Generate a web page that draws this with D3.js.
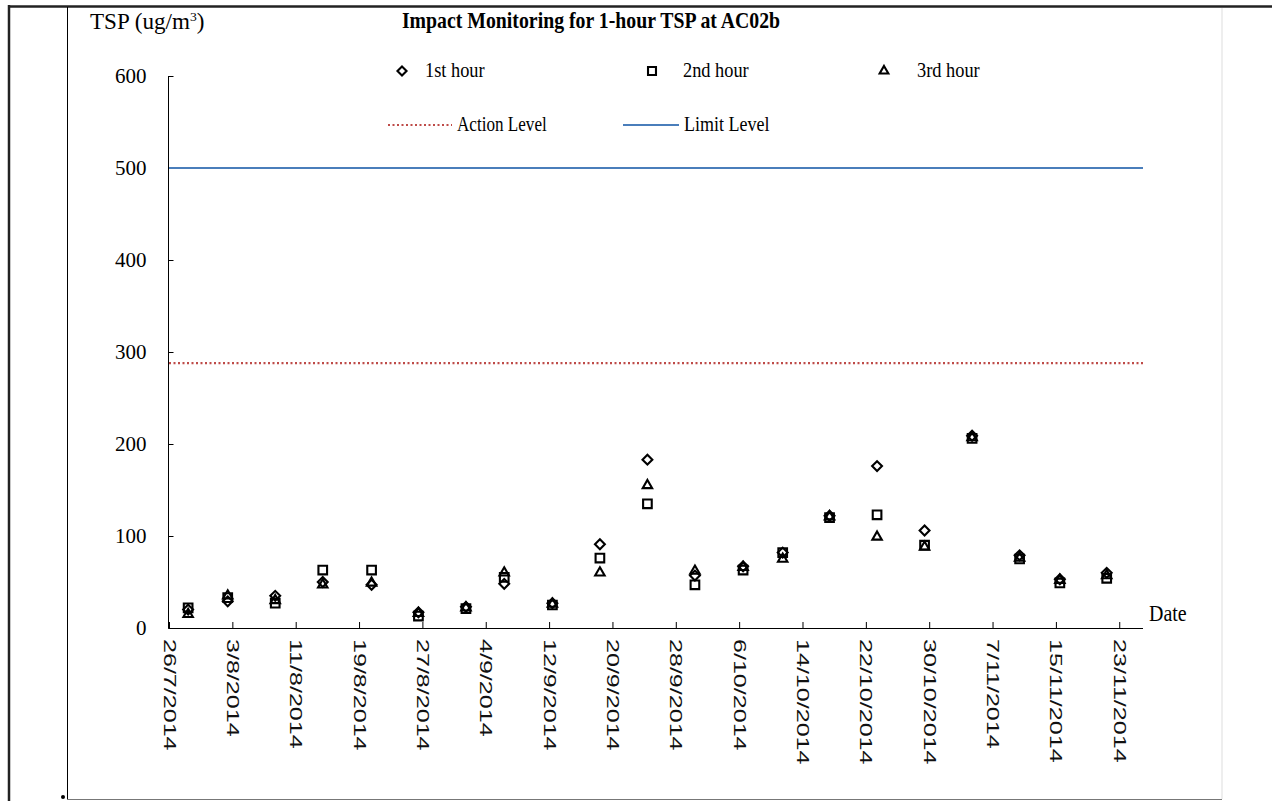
<!DOCTYPE html>
<html>
<head>
<meta charset="utf-8">
<script src="https://cdn.jsdelivr.net/npm/d3@7"></script>
<style>
  body { margin: 0; background: #fff; }
  .chart text { fill: #000; }
</style>
</head>
<body>
<div class="chart"></div>
<script>
// Impact Monitoring for 1-hour TSP at AC02b

var svgWidth = 1272;
var svgHeight = 801;

// sampling dates (start time of the 1-hour measurement)
var sampleDates = [
  "28/7/2014 10:00", "2/8/2014 10:00", "8/8/2014 10:00", "14/8/2014 10:00",
  "20/8/2014 14:00", "26/8/2014 12:00", "1/9/2014 12:00", "6/9/2014 08:00",
  "12/9/2014 10:00", "18/9/2014 10:00", "24/9/2014 10:00", "30/9/2014 10:00",
  "6/10/2014 12:00", "11/10/2014 12:00", "17/10/2014 10:00", "23/10/2014 10:00",
  "29/10/2014 10:00", "4/11/2014 10:00", "10/11/2014 10:00", "15/11/2014 12:00",
  "21/11/2014 10:00"
];
var hour1 = [20, 29, 35, 50, 47, 17, 23, 48, 27, 91, 183, 57, 67, 82, 122, 176, 106, 209, 79, 53, 60];
var hour2 = [22, 33, 27, 63, 63, 13, 21, 55, 25, 76, 135, 47, 63, 82, 120, 123, 90, 206, 75, 49, 54];
var hour3 = [15, 35, 30, 47, 49, 16, 22, 60, 26, 60, 155, 62, 66, 75, 121, 99, 88, 207, 76, 52, 57];

var actionLevel = 288;
var limitLevel = 500;

var yTicks = [0, 100, 200, 300, 400, 500, 600];
var xTickLabels = [
  "26/7/2014", "3/8/2014", "11/8/2014", "19/8/2014", "27/8/2014", "4/9/2014",
  "12/9/2014", "20/9/2014", "28/9/2014", "6/10/2014", "14/10/2014", "22/10/2014",
  "30/10/2014", "7/11/2014", "15/11/2014", "23/11/2014"
];
var xDomain = ["26/7/2014", "26/11/2014"];

var parseTime = d3.timeParse("%d/%m/%Y %H:%M");
var parseDay = d3.timeParse("%d/%m/%Y");

var serif = "'Liberation Serif', 'Times New Roman', serif";

var svg = d3.select(".chart")
  .append("svg")
  .attr("width", svgWidth)
  .attr("height", svgHeight);

// page frame around the figure
svg.append("line").attr("x1", 9).attr("x2", 9).attr("y1", 5).attr("y2", 801)
  .attr("stroke", "#222").attr("stroke-width", 2.5);
svg.append("line").attr("x1", 9).attr("x2", 1272).attr("y1", 6.5).attr("y2", 6.5)
  .attr("stroke", "#222").attr("stroke-width", 2.5);
svg.append("line").attr("x1", 67.5).attr("x2", 67.5).attr("y1", 7).attr("y2", 800)
  .attr("stroke", "#000").attr("stroke-width", 1);
svg.append("line").attr("x1", 67).attr("x2", 1222).attr("y1", 799.5).attr("y2", 799.5)
  .attr("stroke", "#777").attr("stroke-width", 1);
svg.append("line").attr("x1", 1222).attr("x2", 1222).attr("y1", 8).attr("y2", 799)
  .attr("stroke", "#ddd").attr("stroke-width", 1);
svg.append("circle").attr("cx", 63).attr("cy", 797).attr("r", 2).attr("fill", "#000");

var chart = svg.append("g");

// text helper: the original picture is a little stretched, so allow a scale
function addText(x, y, str, size, sx, sy, anchor, weight) {
  return chart.append("text")
    .attr("transform", "translate(" + x + "," + y + ") scale(" + sx + "," + sy + ")")
    .attr("text-anchor", anchor || "start")
    .attr("font-family", serif)
    .attr("font-size", size)
    .attr("font-weight", weight || "normal")
    .text(str);
}

// scales
var xScale = d3.scaleTime()
  .domain(xDomain.map(parseDay))
  .range([169, 1143]);

var yScale = d3.scaleLinear()
  .domain([0, 600])
  .range([628, 76]);

// axes (ticks pointing inside)
var bottomAxis = d3.axisBottom(xScale)
  .tickValues(xTickLabels.map(parseDay))
  .tickSize(-6)
  .tickFormat(d3.timeFormat("%-d/%-m/%Y"));

var leftAxis = d3.axisLeft(yScale)
  .tickValues(yTicks)
  .tickSize(-5)
  .tickFormat(d3.format("d"));

var xAxisG = chart.append("g")
  .attr("transform", "translate(0,628)")
  .call(bottomAxis);
xAxisG.select(".domain").attr("d", "M168.5,0.5H1143").attr("stroke", "#000");
xAxisG.selectAll(".tick line").attr("stroke", "#000");
xAxisG.selectAll(".tick text")
  .attr("font-family", "'Liberation Sans', Arial, sans-serif")
  .attr("font-size", 16.5)
  .attr("text-anchor", "start")
  .attr("y", 0)
  .attr("dy", null)
  .style("fill", "#111")
  .attr("transform", "translate(0,11) rotate(90) scale(1.52,1) translate(0,6)");

var yAxisG = chart.append("g")
  .attr("transform", "translate(168.5,0)")
  .call(leftAxis);
yAxisG.select(".domain").attr("d", "M0,76V628.5").attr("stroke", "#000");
yAxisG.selectAll(".tick line").attr("stroke", "#000");
yAxisG.selectAll(".tick text")
  .attr("font-family", serif)
  .attr("font-size", 21)
  .attr("x", -22);

// action and limit level lines
chart.append("line")
  .attr("x1", 169).attr("x2", 1143)
  .attr("y1", yScale(actionLevel)).attr("y2", yScale(actionLevel))
  .attr("stroke", "#BE4B48").attr("stroke-width", 2.2)
  .attr("stroke-dasharray", "2,2.5");

chart.append("line")
  .attr("x1", 169).attr("x2", 1143)
  .attr("y1", yScale(limitLevel)).attr("y2", yScale(limitLevel))
  .attr("stroke", "#4A7EBB").attr("stroke-width", 2);

// marker series
var series = [
  { name: "1st hour", values: hour1, symbol: d3.symbolDiamond2, size: 62 },
  { name: "2nd hour", values: hour2, symbol: d3.symbolSquare2, size: 95 },
  { name: "3rd hour", values: hour3, symbol: d3.symbolTriangle2, size: 64 }
];

series.forEach(function(s) {
  var sym = d3.symbol().type(s.symbol).size(s.size);
  chart.append("g").selectAll("path")
    .data(s.values)
    .enter().append("path")
      .attr("d", sym)
      .attr("transform", function(d, i) {
        return "translate(" + xScale(parseTime(sampleDates[i])) + "," + yScale(d) + ")";
      })
      .attr("fill", "none")
      .attr("stroke", "#000")
      .attr("stroke-width", 2.1);
});

// titles
addText(591, 28, "Impact Monitoring for 1-hour TSP at AC02b", 22, 0.9, 1.05, "middle", "bold");

var yLabel = addText(90, 29, "", 22, 1.05, 1.02);
yLabel.append("tspan").text("TSP (ug/m");
yLabel.append("tspan").attr("font-size", 13).attr("dy", -8).text("3");
yLabel.append("tspan").attr("dy", 8).text(")");

addText(1149, 621, "Date", 21, 0.95, 1.05);

// legend
var legendPos = [[402, 425], [652, 683], [884, 917]];
series.forEach(function(s, i) {
  chart.append("path")
    .attr("d", d3.symbol().type(s.symbol).size(s.size * 0.85))
    .attr("transform", "translate(" + legendPos[i][0] + ",71)")
    .attr("fill", "none").attr("stroke", "#000").attr("stroke-width", 2.1);
  addText(legendPos[i][1], 77, s.name, 18, 1.02, 1.12);
});

chart.append("line")
  .attr("x1", 388).attr("x2", 452).attr("y1", 125).attr("y2", 125)
  .attr("stroke", "#BE4B48").attr("stroke-width", 2.2)
  .attr("stroke-dasharray", "2,2.5");
addText(457, 131, "Action Level", 18, 0.95, 1.12);

chart.append("line")
  .attr("x1", 623).attr("x2", 679).attr("y1", 125).attr("y2", 125)
  .attr("stroke", "#4A7EBB").attr("stroke-width", 2);
addText(684, 131, "Limit Level", 18, 1.0, 1.12);
</script>
</body>
</html>
